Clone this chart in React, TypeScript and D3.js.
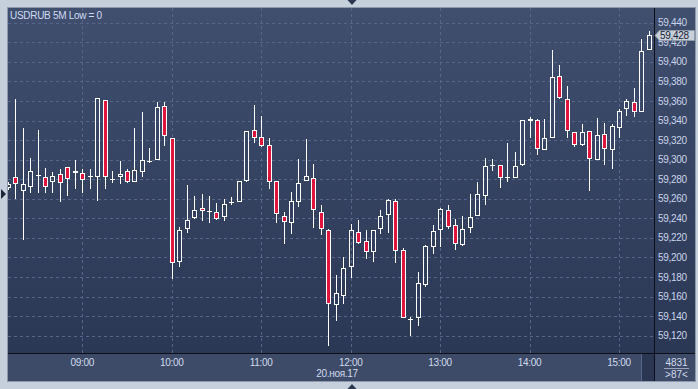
import React, { useRef, useEffect } from "react";
import * as d3 from "d3";

// USDRUB, 5 minute bars, 20 Nov 2017, 08:10 .. 15:20
const TITLE = "USDRUB 5M Low = 0";
const FIRST_BAR = new Date(2017, 10, 20, 8, 10);
const BAR_MINUTES = 5;

const opens = [
  59270.7, 59281.9, 59268.3, 59272.4, 59283.5, 59282.2, 59277.5, 59285.3, 59292.2, 59286.0,
  59286.0, 59282.8, 59281.9, 59360.8, 59280.2, 59281.9, 59288.1, 59277.5, 59287.1, 59298.2,
  59300.0, 59354.6, 59321.8, 59195.0, 59228.8, 59240.0, 59250.3, 59247.6, 59246.2, 59241.1,
  59255.7, 59256.4, 59278.5, 59330.0, 59322.9, 59314.7, 59277.9, 59242.1, 59234.9, 59256.4,
  59277.9, 59280.9, 59246.2, 59227.8, 59151.1, 59160.9, 59189.9, 59225.7, 59216.5, 59205.9,
  59228.8, 59243.1, 59257.4, 59207.3, 59136.6, 59137.8, 59172.1, 59210.4, 59227.8, 59248.2,
  59232.9, 59212.4, 59229.8, 59242.4, 59263.1, 59294.6, 59294.8, 59282.4, 59281.5, 59294.2,
  59341.3, 59340.2, 59309.6, 59322.4, 59385.5, 59361.7, 59328.0, 59315.3, 59329.0, 59299.4,
  59325.9, 59309.6, 59332.1, 59351.8, 59358.9, 59349.0, 59412.1,
];
const highs = [
  59277.0, 59362.0, 59332.7, 59301.7, 59330.3, 59291.5, 59287.7, 59290.1, 59292.5, 59299.4,
  59290.4, 59290.4, 59362.7, 59361.0, 59288.1, 59298.6, 59290.8, 59332.7, 59348.7, 59312.2,
  59358.9, 59358.9, 59322.1, 59231.1, 59274.1, 59262.8, 59264.9, 59262.8, 59255.7, 59259.5,
  59262.1, 59278.2, 59329.3, 59355.9, 59344.6, 59321.8, 59278.2, 59246.5, 59266.9, 59300.7,
  59321.1, 59295.6, 59253.6, 59229.1, 59182.1, 59200.8, 59234.2, 59238.3, 59228.1, 59227.8,
  59248.2, 59260.1, 59259.8, 59209.4, 59138.8, 59185.1, 59212.4, 59233.5, 59250.6, 59253.6,
  59239.0, 59242.4, 59264.6, 59276.8, 59302.0, 59300.4, 59295.0, 59316.7, 59307.5, 59340.5,
  59343.3, 59341.3, 59341.3, 59412.1, 59397.1, 59375.3, 59328.6, 59336.1, 59329.3, 59342.6,
  59337.5, 59336.1, 59351.5, 59362.0, 59373.6, 59423.1, 59431.6,
];
const lows = [
  59269.0, 59259.8, 59217.9, 59266.2, 59266.2, 59266.2, 59266.2, 59256.7, 59263.1, 59270.3,
  59266.2, 59270.3, 59258.0, 59270.3, 59276.4, 59275.1, 59276.4, 59277.0, 59281.9, 59296.6,
  59299.4, 59314.3, 59178.3, 59190.5, 59225.3, 59239.8, 59237.6, 59235.5, 59238.3, 59237.6,
  59253.9, 59256.2, 59277.1, 59316.7, 59313.3, 59270.3, 59235.5, 59213.4, 59224.3, 59251.3,
  59277.7, 59230.4, 59223.0, 59109.8, 59135.3, 59152.7, 59179.3, 59214.1, 59198.7, 59195.7,
  59224.3, 59225.3, 59194.3, 59137.6, 59120.0, 59130.2, 59170.1, 59203.9, 59211.0, 59228.8,
  59207.6, 59212.2, 59225.3, 59242.2, 59253.9, 59288.1, 59271.3, 59277.5, 59281.3, 59294.0,
  59322.4, 59305.1, 59309.4, 59321.8, 59362.5, 59322.4, 59312.6, 59314.0, 59268.3, 59299.2,
  59294.8, 59290.8, 59322.4, 59344.3, 59343.9, 59348.4, 59411.9,
];
const closes = [
  59275.1, 59274.8, 59274.8, 59288.1, 59283.8, 59272.4, 59283.0, 59276.4, 59279.7, 59288.1,
  59279.5, 59282.5, 59362.7, 59281.9, 59280.4, 59285.3, 59276.8, 59289.1, 59299.4, 59298.6,
  59353.8, 59323.9, 59194.0, 59227.8, 59238.0, 59248.2, 59247.2, 59247.9, 59239.6, 59254.4,
  59257.2, 59277.9, 59329.0, 59321.8, 59314.0, 59276.8, 59244.1, 59236.3, 59257.4, 59275.8,
  59283.0, 59248.2, 59228.8, 59152.1, 59163.3, 59188.9, 59227.8, 59214.8, 59205.2, 59227.6,
  59242.1, 59258.4, 59206.3, 59137.8, 59136.9, 59173.6, 59211.7, 59226.7, 59249.5, 59231.4,
  59213.8, 59228.8, 59241.1, 59264.6, 59293.2, 59295.0, 59280.9, 59282.7, 59293.5, 59340.2,
  59339.5, 59310.9, 59322.1, 59384.2, 59362.7, 59329.3, 59314.7, 59328.0, 59300.4, 59324.9,
  59310.9, 59334.4, 59350.1, 59359.7, 59348.7, 59410.8, 59427.6,
];

const priceTicks = [
  59120, 59140, 59160, 59180, 59200, 59220, 59240, 59260, 59280,
  59300, 59320, 59340, 59360, 59380, 59400, 59420, 59440,
];
const hourTicks = [9, 10, 11, 12, 13, 14, 15];
const DATE_LABEL = "20.ноя.17";
const TOTAL_BARS = "4831";
const VISIBLE_BARS = ">87<";

const FONT = "'Liberation Sans', Arial, sans-serif";

export default function App() {
  const svgRef = useRef<SVGSVGElement>(null);

  useEffect(() => {
    if (!svgRef.current) return;
    const W = 698;
    const H = 389;
    const plot = { left: 8, top: 8, right: 654, bottom: 353 };

    const svg = d3.select(svgRef.current);
    svg.selectAll("*").remove();
    svg.attr("width", W).attr("height", H);

    const day = (h: number, m = 0) => new Date(2017, 10, 20, h, m);
    const x = d3.scaleTime().domain([day(9), day(15)]).range([82.3, 619]);
    const y = d3.scaleLinear().domain([59120, 59440]).range([335.7, 22.7]);

    const defs = svg.append("defs");
    const grad = defs
      .append("linearGradient")
      .attr("id", "plotBg")
      .attr("gradientUnits", "userSpaceOnUse")
      .attr("x1", 0)
      .attr("y1", plot.top)
      .attr("x2", 0)
      .attr("y2", plot.bottom);
    grad.append("stop").attr("offset", "0%").attr("stop-color", "#404f6e");
    grad.append("stop").attr("offset", "100%").attr("stop-color", "#2a3755");
    defs
      .append("clipPath")
      .attr("id", "plotClip")
      .append("rect")
      .attr("x", plot.left)
      .attr("y", plot.top)
      .attr("width", plot.right - plot.left)
      .attr("height", plot.bottom - plot.top);

    // frame
    svg.append("rect").attr("width", W).attr("height", H).attr("fill", "#c5d0dc");
    svg
      .append("rect")
      .attr("x", 7.5)
      .attr("y", 7.5)
      .attr("width", 688)
      .attr("height", 374)
      .attr("fill", "url(#plotBg)")
      .attr("stroke", "#8e9aac");

    // time axis strip
    svg
      .append("rect")
      .attr("x", 8)
      .attr("y", plot.bottom + 1)
      .attr("width", 687)
      .attr("height", 27)
      .attr("fill", "#3d4b69");
    svg
      .append("rect")
      .attr("x", 641)
      .attr("y", plot.bottom + 1)
      .attr("width", 13)
      .attr("height", 27)
      .attr("fill", "#2a3652");
    svg
      .append("line")
      .attr("x1", 641.5)
      .attr("x2", 641.5)
      .attr("y1", plot.bottom + 1)
      .attr("y2", 381)
      .attr("stroke", "#56668a");

    // grid
    const grid = svg.append("g").attr("stroke", "#55668a").attr("stroke-dasharray", "3,3");
    grid
      .selectAll("line.h")
      .data(priceTicks)
      .join("line")
      .attr("class", "h")
      .attr("x1", plot.left)
      .attr("x2", plot.right)
      .attr("y1", (d) => Math.round(y(d)) + 0.5)
      .attr("y2", (d) => Math.round(y(d)) + 0.5);
    grid
      .selectAll("line.v")
      .data(hourTicks)
      .join("line")
      .attr("class", "v")
      .attr("x1", (d) => Math.round(x(day(d))) + 0.5)
      .attr("x2", (d) => Math.round(x(day(d))) + 0.5)
      .attr("y1", plot.top)
      .attr("y2", plot.bottom);

    // candles
    const bars = opens.map((o, i) => ({
      t: d3.timeMinute.offset(FIRST_BAR, i * BAR_MINUTES),
      o,
      h: highs[i],
      l: lows[i],
      c: closes[i],
    }));
    const g = svg.append("g").attr("clip-path", "url(#plotClip)");
    bars.forEach((b) => {
      const cx = Math.round(x(b.t));
      const top = Math.round(y(Math.max(b.o, b.c)));
      const bot = Math.round(y(Math.min(b.o, b.c)));
      const yh = Math.round(y(b.h));
      const yl = Math.round(y(b.l));
      const up = b.c >= b.o;
      const wick = (y1: number, y2: number) =>
        g
          .append("line")
          .attr("x1", cx + 0.5)
          .attr("x2", cx + 0.5)
          .attr("y1", y1)
          .attr("y2", y2)
          .attr("stroke", "#ffffff");
      if (bot - top < 2) {
        wick(yh, Math.max(yl, yh + 1));
        g.append("line")
          .attr("x1", cx - 2)
          .attr("x2", cx + 3)
          .attr("y1", top + 0.5)
          .attr("y2", top + 0.5)
          .attr("stroke", "#ffffff");
        return;
      }
      if (yh < top) wick(yh, top);
      if (yl > bot) wick(bot, yl);
      g.append("rect")
        .attr("x", cx - 1.5)
        .attr("y", top + 0.5)
        .attr("width", 4)
        .attr("height", bot - top - 1)
        .attr("fill", up ? "none" : "#e0153e")
        .attr("stroke", "#ffffff");
    });

    // separators
    svg
      .append("line")
      .attr("x1", plot.right + 0.5)
      .attr("x2", plot.right + 0.5)
      .attr("y1", plot.top)
      .attr("y2", 381)
      .attr("stroke", "#0c0f18");
    svg
      .append("line")
      .attr("x1", plot.left)
      .attr("x2", 695)
      .attr("y1", plot.bottom + 0.5)
      .attr("y2", plot.bottom + 0.5)
      .attr("stroke", "#0c0f18");

    // price axis labels
    const fmt = d3.format(",");
    svg
      .append("g")
      .selectAll("text")
      .data(priceTicks)
      .join("text")
      .attr("x", 658)
      .attr("y", (d) => y(d) + 3.6)
      .attr("fill", "#c9d5ea")
      .attr("font-family", FONT)
      .attr("font-size", 10)
      .attr("letter-spacing", -0.3)
      .text((d) => fmt(d));

    // last price marker
    const last = closes[closes.length - 1];
    const ly = Math.round(y(last)) + 0.5;
    svg
      .append("path")
      .attr("d", `M655,${ly} L659.5,${ly - 5} L694.5,${ly - 5} L694.5,${ly + 5} L659.5,${ly + 5} Z`)
      .attr("fill", "#c7cfd9")
      .attr("stroke", "#8f9bab");
    svg
      .append("text")
      .attr("x", 660)
      .attr("y", ly + 3.8)
      .attr("fill", "#182036")
      .attr("font-family", FONT)
      .attr("font-size", 10)
      .attr("letter-spacing", -0.3)
      .text(d3.format(",.0f")(last));

    // time axis labels
    const tfmt = d3.timeFormat("%H:%M");
    svg
      .append("g")
      .selectAll("text")
      .data(hourTicks)
      .join("text")
      .attr("x", (d) => x(day(d)))
      .attr("y", 366)
      .attr("text-anchor", "middle")
      .attr("fill", "#d0dbed")
      .attr("font-family", FONT)
      .attr("font-size", 10)
      .attr("letter-spacing", -0.3)
      .text((d) => tfmt(day(d)));
    svg
      .append("text")
      .attr("x", 337)
      .attr("y", 376.5)
      .attr("text-anchor", "middle")
      .attr("fill", "#d0dbed")
      .attr("font-family", FONT)
      .attr("font-size", 10)
      .attr("letter-spacing", -0.3)
      .text(DATE_LABEL);

    // bar counter
    svg
      .append("text")
      .attr("x", 676.5)
      .attr("y", 365.5)
      .attr("text-anchor", "middle")
      .attr("fill", "#d0dbed")
      .attr("font-family", FONT)
      .attr("font-size", 10)
      .text(TOTAL_BARS);
    svg
      .append("line")
      .attr("x1", 664)
      .attr("x2", 689)
      .attr("y1", 368.5)
      .attr("y2", 368.5)
      .attr("stroke", "#9aa7bc");
    svg
      .append("text")
      .attr("x", 676.5)
      .attr("y", 377.5)
      .attr("text-anchor", "middle")
      .attr("fill", "#d0dbed")
      .attr("font-family", FONT)
      .attr("font-size", 10)
      .text(VISIBLE_BARS);

    // title
    svg
      .append("text")
      .attr("x", 10)
      .attr("y", 18.5)
      .attr("fill", "#cfdcf2")
      .attr("font-family", FONT)
      .attr("font-size", 10)
      .attr("letter-spacing", -0.3)
      .text(TITLE);

    // scroll markers
    svg.append("path").attr("d", "M1,189 L6,194 L1,199 Z").attr("fill", "#1c2538");
    svg.append("path").attr("d", "M347.5,0 L356.5,0 L352,5 Z").attr("fill", "#2a3550");
    svg.append("path").attr("d", "M347.5,389 L356.5,389 L352,384 Z").attr("fill", "#2a3550");
  }, []);

  return <svg ref={svgRef} style={{ position: "absolute", left: 0, top: 0 }} />;
}
